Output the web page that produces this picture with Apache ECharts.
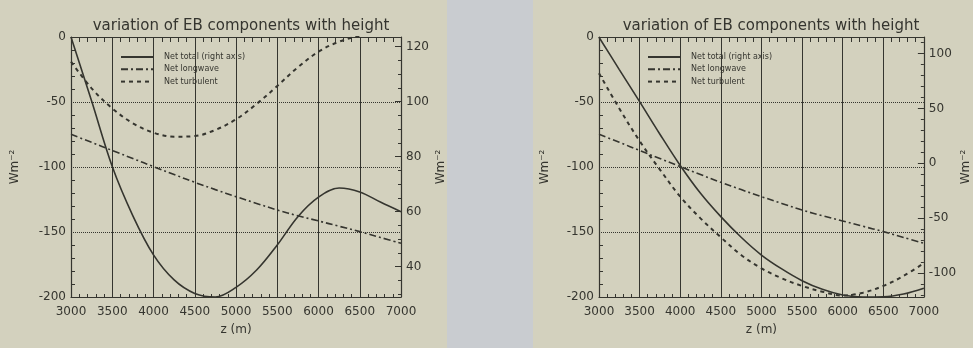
<!DOCTYPE html>
<html>
<head>
<meta charset="utf-8">
<title>variation of EB components with height</title>
<script src="https://cdn.jsdelivr.net/npm/echarts@6/dist/echarts.min.js"></script>
<style>
  html, body { margin: 0; padding: 0; background: #d3d1be; }
  #chart { width: 973px; height: 348px; }
</style>
</head>
<body>
<div id="chart"></div>
<script>
// height z (m), shared by every curve
const heights = [3000, 3250, 3500, 3750, 4000, 4250, 4500, 4750, 5000, 5250, 5500, 5750, 6000, 6250, 6500, 6750, 7000];

// left panel
const totalLeft = [123.5, 100.2, 76.4, 58.5, 44.3, 35.2, 30.3, 29.0, 32.5, 38.8, 47.9, 58.2, 65.3, 68.6, 67.2, 63.5, 60.0]; // right axis
const turbulentLeft = [-19, -39.5, -54.9, -66.4, -73.6, -76.7, -76.2, -71.5, -63.3, -51.5, -37.7, -23.3, -11.3, -3.6, 1, 5, 8];

// right panel
const totalRight = [115, 85.5, 56.2, 26.5, -2, -27.4, -48.7, -67.5, -83.7, -96.4, -107.1, -115, -120.2, -122, -121.8, -119.3, -114]; // right axis
const turbulentRight = [-27.9, -55, -80, -102, -122.8, -139.5, -154.1, -167.7, -178, -185.6, -191.5, -195.9, -198.9, -196.7, -191.5, -183.8, -174];

// net longwave looks the same in both panels
const longwave = [-74.9, -81, -87.3, -93.5, -99.7, -105.8, -111.8, -117.4, -122.8, -128, -133.1, -137.5, -141.5, -145.6, -149.7, -154.2, -158.7];

// right-axis labels and ranges
const rightTicksLeft = [40, 60, 80, 100, 120];
const rightTicksRight = [-100, -50, 0, 50, 100];
const rangeLeft = [29, 123.5];
const rangeRight = [-122, 115.2];

const names = ['Net total (right axis)', 'Net longwave', 'Net turbulent'];
const titleText = 'variation of EB components with height';

const ink = '#35352f';
const font = 'DejaVu Sans';
const plain = v => String(v);

function pairs(ys) {
  return heights.map((z, i) => [z, ys[i]]);
}

function steps(lo, hi, step) {
  const out = [];
  for (let v = Math.ceil(lo / step) * step; v <= hi; v += step) out.push(v);
  return out;
}

function bottomAxis(grid) {
  return {
    type: 'value', gridIndex: grid, position: 'bottom',
    min: 3000, max: 7000, interval: 500,
    name: 'z (m)', nameLocation: 'middle', nameGap: 27,
    nameTextStyle: { color: ink, fontSize: 12, fontFamily: font },
    axisLine: { show: true, onZero: false, lineStyle: { color: ink, width: 1.2 } },
    axisTick: { show: false, inside: true },
    minorTick: { show: true, splitNumber: 5, length: 3, lineStyle: { color: ink } },
    axisLabel: { color: ink, fontSize: 12, margin: 9, fontFamily: font, formatter: plain },
    splitLine: { show: true, lineStyle: { color: ink, width: 1 } }
  };
}

function topAxis(grid) {
  return {
    type: 'value', gridIndex: grid, position: 'top',
    min: 3000, max: 7000, interval: 500,
    axisLine: { show: true, onZero: false, lineStyle: { color: ink, width: 1.2 } },
    axisTick: { show: false, inside: true },
    minorTick: { show: true, splitNumber: 5, length: 5, lineStyle: { color: ink } },
    axisLabel: { show: false },
    splitLine: { show: false }
  };
}

function leftAxis(grid, gap) {
  return {
    type: 'value', gridIndex: grid, position: 'left',
    min: -200, max: 0, interval: 50,
    name: 'Wm⁻²', nameLocation: 'middle', nameRotate: 90, nameGap: gap,
    nameTextStyle: { color: ink, fontSize: 12, fontFamily: font },
    axisLine: { show: true, onZero: false, lineStyle: { color: ink, width: 1.2 } },
    axisTick: { show: false, inside: true },
    minorTick: { show: true, splitNumber: 5, length: 4, lineStyle: { color: ink } },
    axisLabel: { color: ink, fontSize: 12, margin: 5, fontFamily: font, formatter: plain },
    splitLine: { show: true, lineStyle: { color: ink, type: 'dotted', width: 1 } }
  };
}

function rightAxis(grid, range, ticks, gap) {
  return {
    type: 'value', gridIndex: grid, position: 'right',
    min: range[0], max: range[1],
    name: 'Wm⁻²', nameLocation: 'middle', nameRotate: 90, nameGap: gap,
    nameTextStyle: { color: ink, fontSize: 12, fontFamily: font },
    axisLine: { show: true, onZero: false, lineStyle: { color: ink, width: 1.2 } },
    axisTick: { show: true, inside: true, length: 6, customValues: ticks, lineStyle: { color: ink } },
    axisLabel: { color: ink, fontSize: 12, margin: 5, fontFamily: font, customValues: ticks, formatter: plain },
    splitLine: { show: false }
  };
}

// second right axis only for the small ticks
function rightMinor(grid, range, step) {
  return {
    type: 'value', gridIndex: grid, position: 'right',
    min: range[0], max: range[1],
    axisLine: { show: false, onZero: false },
    axisTick: { show: true, inside: true, length: 3, customValues: steps(range[0], range[1], step), lineStyle: { color: ink } },
    axisLabel: { show: false },
    splitLine: { show: false }
  };
}

function line(name, data, xi, yi, dash, width) {
  return {
    name: name, type: 'line', xAxisIndex: xi, yAxisIndex: yi,
    data: pairs(data), smooth: 0.35, symbol: 'none', z: 5,
    itemStyle: { color: ink },
    lineStyle: { color: ink, width: width, type: dash }
  };
}

function legendAt(x) {
  return {
    left: x, top: 48, orient: 'vertical', selectedMode: false,
    itemWidth: 32, itemHeight: 9, itemGap: 4.3, data: names,
    itemStyle: { opacity: 0 },
    textStyle: { color: ink, fontSize: 8, fontFamily: font, padding: [0, 0, 0, 6] }
  };
}

const chart = echarts.init(document.getElementById('chart'), null, { renderer: 'canvas' });

chart.setOption({
  backgroundColor: '#d3d1be',
  animation: false,
  graphic: [
    { type: 'rect', shape: { x: 447, y: 0, width: 86, height: 348 }, style: { fill: '#c9ccd0' }, z: -10 }
  ],
  title: [
    { text: titleText, left: 236, top: 14, textAlign: 'center', textStyle: { color: ink, fontSize: 15, fontWeight: 'normal', fontFamily: font } },
    { text: titleText, left: 766, top: 14, textAlign: 'center', textStyle: { color: ink, fontSize: 15, fontWeight: 'normal', fontFamily: font } }
  ],
  legend: [legendAt(115), legendAt(642)],
  grid: [
    { left: 71, top: 37, width: 330, height: 260 },
    { left: 599, top: 37, width: 333, height: 260 }
  ],
  xAxis: [bottomAxis(0), topAxis(0), bottomAxis(1), topAxis(1)],
  yAxis: [
    leftAxis(0, 50),
    rightAxis(0, rangeLeft, rightTicksLeft, 34),
    rightMinor(0, rangeLeft, 5),
    leftAxis(1, 48),
    rightAxis(1, rangeRight, rightTicksRight, 36),
    rightMinor(1, rangeRight, 10)
  ],
  series: [
    line(names[0], totalLeft, 0, 1, 'solid', 1.6),
    line(names[1], longwave, 0, 0, [7, 3, 2, 3], 1.6),
    line(names[2], turbulentLeft, 0, 0, [4, 4], 2),
    line(names[0], totalRight, 2, 4, 'solid', 1.6),
    line(names[1], longwave, 2, 3, [7, 3, 2, 3], 1.6),
    line(names[2], turbulentRight, 2, 3, [4, 4], 2)
  ]
});
</script>
</body>
</html>
